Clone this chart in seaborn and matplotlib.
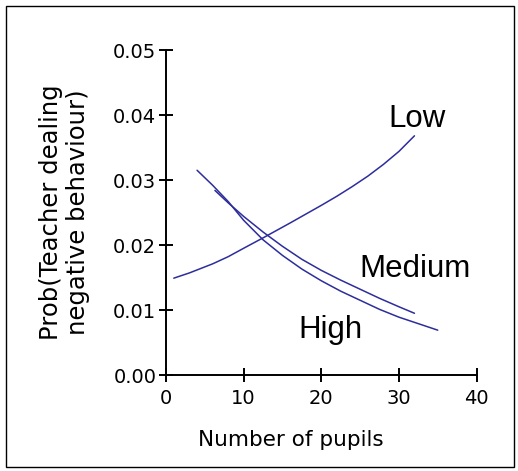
import numpy as np
import pandas as pd
import matplotlib
matplotlib.use("Agg")
import matplotlib.pyplot as plt
import matplotlib.patches as patches
import seaborn as sns

# values
low_x = [1, 3, 6, 8, 10, 12.5, 16, 20, 22, 24, 26, 28, 30, 32]
low_y = [0.0149, 0.0157, 0.0171, 0.0182, 0.0195, 0.0211, 0.0234, 0.0261, 0.0275, 0.0290,
         0.0306, 0.0324, 0.0344, 0.0368]

med_x = [6.3, 8, 10, 12.5, 15, 17.5, 20, 22.5, 25, 27.5, 30, 32]
med_y = [0.0284, 0.0265, 0.0244, 0.0220, 0.0198, 0.0178, 0.0161, 0.0146, 0.0132, 0.0118,
         0.0105, 0.0095]

high_x = [4, 6, 8, 10, 12.5, 15, 17.5, 20, 22.5, 25, 27.5, 30, 32.5, 35]
high_y = [0.0315, 0.0292, 0.0267, 0.0238, 0.0208, 0.0184, 0.0163, 0.0145, 0.0129, 0.0115,
          0.0101, 0.0089, 0.0079, 0.0069]

group_names = ["Low", "Medium", "High"]

df = pd.concat([
    pd.DataFrame({"pupils": low_x, "prob": low_y, "group": "Low"}),
    pd.DataFrame({"pupils": med_x, "prob": med_y, "group": "Medium"}),
    pd.DataFrame({"pupils": high_x, "prob": high_y, "group": "High"}),
])

sns.set_style("ticks")
plt.rcParams["font.family"] = ["DejaVu Sans"]
plt.rcParams["text.color"] = "black"
plt.rcParams["axes.labelcolor"] = "black"

fig = plt.figure(figsize=(5.18, 4.71), dpi=100)
ax = fig.add_axes([0.3205, 0.2038, 0.5995, 0.69])

line_col = "#2d2d9c"
sns.lineplot(data=df, x="pupils", y="prob", hue="group", units="group",
             estimator=None, palette=[line_col] * 3, linewidth=1.1,
             legend=False, ax=ax)

ax.set_xlim(0, 40)
ax.set_ylim(0, 0.05)
ax.set_xticks([0, 10, 20, 30, 40])
ax.set_yticks([0, 0.01, 0.02, 0.03, 0.04, 0.05])
ax.set_yticklabels(["0.00", "0.01", "0.02", "0.03", "0.04", "0.05"])
ax.tick_params(direction="inout", length=10, width=1.4, labelsize=14, colors="black")
ax.tick_params(axis="y", pad=2)
ax.tick_params(axis="x", pad=5)
sns.despine(ax=ax)
for s in ["left", "bottom"]:
    ax.spines[s].set_linewidth(1.4)
    ax.spines[s].set_color("black")

ax.set_xlabel("Number of pupils", fontsize=15.5, va="baseline", color="black")
ax.xaxis.set_label_coords(0.401, -0.218)
ax.set_ylabel("Prob(Teacher dealing\nnegative behaviour)", fontsize=17.5, linespacing=1.2,
              va="center", color="black")
ax.yaxis.set_label_coords(-0.327, 0.5)

lab_x = [32.4, 32.1, 21.2]
lab_y = [0.0382, 0.0151, 0.0057]
for name, lx, ly in zip(group_names, lab_x, lab_y):
    ax.text(lx, ly, name, fontsize=22.5, ha="center", va="baseline",
            family="Liberation Sans", color="black")

fig.patches.append(patches.Rectangle((6 / 518, 1 - 467 / 471), 508 / 518, 461 / 471,
                                     transform=fig.transFigure, fill=False,
                                     edgecolor="black", linewidth=1))

fig.savefig("out.png", dpi=100)
